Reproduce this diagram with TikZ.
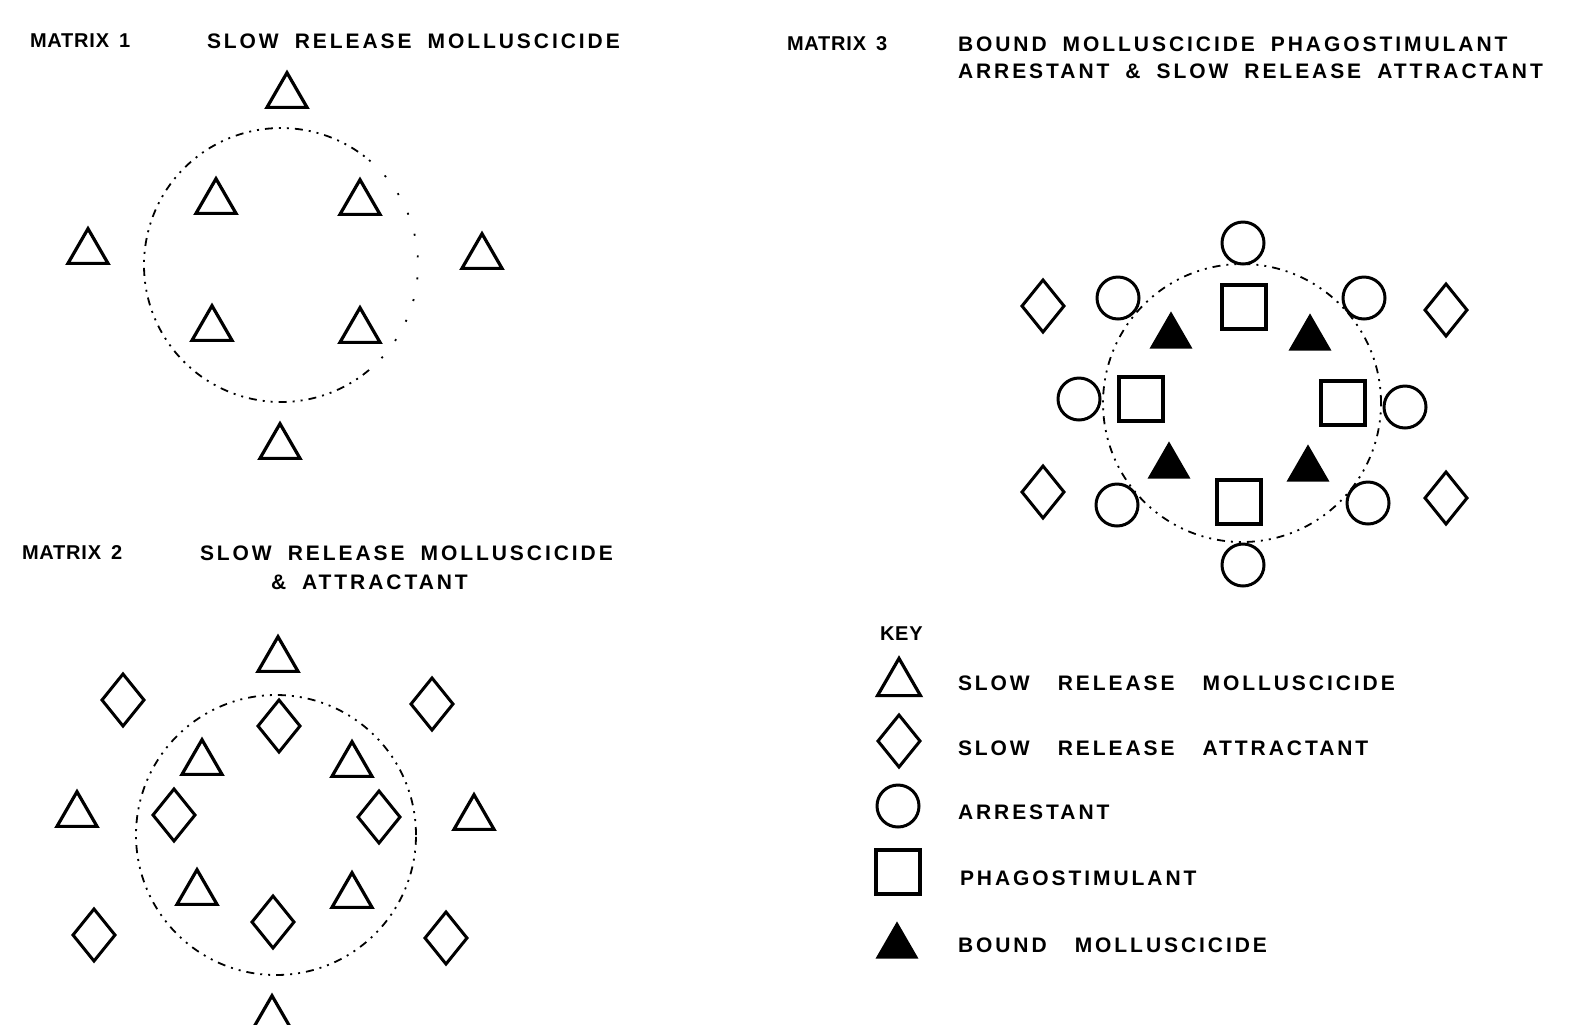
\documentclass[tikz,border=0pt]{standalone}
\usepackage{fontspec}
\newfontfamily\lblfont[LetterSpace=14]{Liberation Sans}
\newfontfamily\tagfont[LetterSpace=4]{Liberation Sans}
\usetikzlibrary{shapes.geometric}
\begin{document}
\begin{tikzpicture}[x=0.5pt,y=-0.5pt,
  every node/.style={inner sep=0pt, outer sep=0pt},
  lbl/.style={anchor=west, font={\lblfont\bfseries\fontsize{10.5pt}{12pt}\selectfont\spaceskip=8pt\relax}},
  keylbl/.style={anchor=west, font={\lblfont\bfseries\fontsize{10.5pt}{12pt}\selectfont\spaceskip=14pt\relax}},
  tag/.style={anchor=west, font={\tagfont\bfseries\fontsize{10pt}{12pt}\selectfont\spaceskip=5pt\relax}},
  otri/.style={regular polygon, regular polygon sides=3, draw, line width=1.6pt, minimum size=23.1pt, yshift=-2.9pt},
  ftri/.style={regular polygon, regular polygon sides=3, fill=black, minimum size=24.8pt, yshift=-3.1pt},
  dia/.style={diamond, draw, line width=1.5pt, minimum width=21pt, minimum height=26pt},
  arr/.style={circle, draw, line width=1.5pt, minimum size=21pt},
  sq/.style={rectangle, draw, line width=1.7pt, minimum size=22pt},
  ringline/.style={draw, line width=0.9pt, dash pattern=on 4pt off 3pt on 1pt off 3pt on 1pt off 3pt},
  ring/.style={circle, ringline},
  sparse/.style={draw, line width=0.9pt, dash pattern=on 1pt off 10pt},
]
\fill[white] (0,0) rectangle (1585,1024);
\useasboundingbox (0,0) rectangle (1585,1024);

% ---------- Matrix 1 ----------
\node[tag] (m1lab) at (30,41) {MATRIX 1};
\node[lbl] (m1t) at (207,41) {SLOW RELEASE MOLLUSCICIDE};
\draw[ringline] (281,265) ++(50:137) arc[start angle=50, end angle=310, radius=137];
\draw[sparse] (281,265) ++(-50:137) arc[start angle=-50, end angle=50, radius=137];
\node[otri] (m1a) at (287,90) {};
\node[otri] (m1b) at (216,196) {};
\node[otri] (m1c) at (360,197) {};
\node[otri] (m1d) at (88,246) {};
\node[otri] (m1e) at (482,251) {};
\node[otri] (m1f) at (212,323) {};
\node[otri] (m1g) at (360,325) {};
\node[otri] (m1h) at (280,441) {};

% ---------- Matrix 2 ----------
\node[tag] (m2lab) at (22,553) {MATRIX 2};
\node[lbl] (m2t1) at (200,553) {SLOW RELEASE MOLLUSCICIDE};
\node[lbl] (m2t2) at (271,582) {\& ATTRACTANT};
\node[ring, minimum size=140pt] (m2ring) at (276,835) {};
\node[otri] (m2a) at (278,654) {};
\node[otri] (m2b) at (202,757) {};
\node[otri] (m2c) at (352,759) {};
\node[otri] (m2d) at (77,809) {};
\node[otri] (m2e) at (474,812) {};
\node[otri] (m2f) at (197,887) {};
\node[otri] (m2g) at (352,890) {};
\node[otri] (m2h) at (272,1013) {};
\node[dia] (m2p) at (123,700) {};
\node[dia] (m2q) at (279,726) {};
\node[dia] (m2r) at (432,704) {};
\node[dia] (m2s) at (174,815) {};
\node[dia] (m2t) at (379,817) {};
\node[dia] (m2u) at (273,922) {};
\node[dia] (m2v) at (94,935) {};
\node[dia] (m2w) at (446,938) {};

% ---------- Matrix 3 ----------
\node[tag] (m3lab) at (787,44) {MATRIX 3};
\node[lbl] (m3t1) at (958,44) {BOUND MOLLUSCICIDE PHAGOSTIMULANT};
\node[lbl] (m3t2) at (958,71) {ARRESTANT \& SLOW RELEASE ATTRACTANT};
\node[ring, minimum size=139pt] (m3ring) at (1242,403) {};
\node[arr] (m3c1) at (1243,243) {};
\node[arr] (m3c2) at (1118,298) {};
\node[arr] (m3c3) at (1364,298) {};
\node[arr] (m3c4) at (1079,399) {};
\node[arr] (m3c5) at (1405,407) {};
\node[arr] (m3c6) at (1117,505) {};
\node[arr] (m3c7) at (1368,503) {};
\node[arr] (m3c8) at (1243,565) {};
\node[sq] (m3s1) at (1244,307) {};
\node[sq] (m3s2) at (1141,399) {};
\node[sq] (m3s3) at (1343,403) {};
\node[sq] (m3s4) at (1239,502) {};
\node[ftri] (m3f1) at (1171,330) {};
\node[ftri] (m3f2) at (1310,332) {};
\node[ftri] (m3f3) at (1169,460) {};
\node[ftri] (m3f4) at (1308,463) {};
\node[dia] (m3d1) at (1043,306) {};
\node[dia] (m3d2) at (1446,310) {};
\node[dia] (m3d3) at (1043,492) {};
\node[dia] (m3d4) at (1446,498) {};

% ---------- Key ----------
\node[tag] (keylab) at (880,634) {KEY};
\node[ftri, fill=none, draw, line width=1.6pt] (k1) at (899,677) {};
\node[keylbl] (k1t) at (958,683) {SLOW RELEASE MOLLUSCICIDE};
\node[dia] (k2) at (899,741) {};
\node[keylbl] (k2t) at (958,748) {SLOW RELEASE ATTRACTANT};
\node[arr] (k3) at (898,806) {};
\node[keylbl] (k3t) at (958,812) {ARRESTANT};
\node[sq] (k4) at (898,872) {};
\node[keylbl] (k4t) at (960,878) {PHAGOSTIMULANT};
\node[ftri] (k5) at (897,940) {};
\node[keylbl] (k5t) at (958,945) {BOUND MOLLUSCICIDE};
\end{tikzpicture}
\end{document}
